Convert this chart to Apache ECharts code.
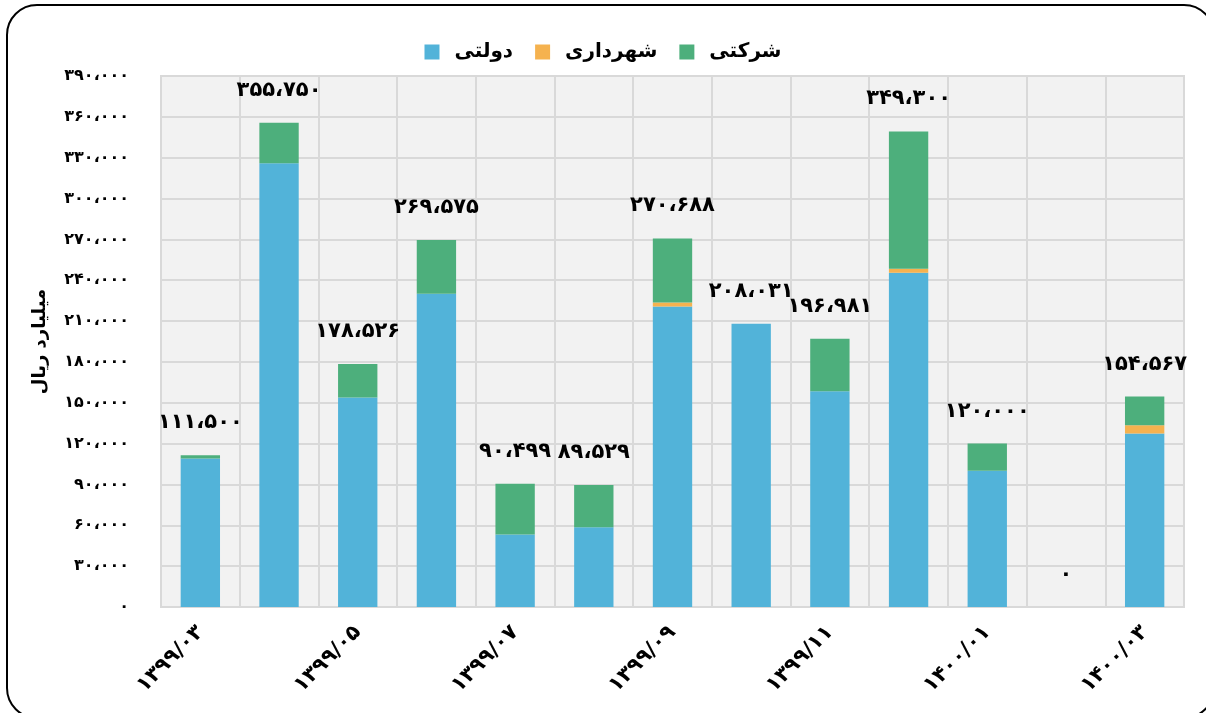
<!DOCTYPE html>
<html>
<head>
<meta charset="utf-8">
<script src="https://cdn.jsdelivr.net/npm/echarts@6/dist/echarts.min.js"></script>
<style>
  html, body { margin: 0; padding: 0; background: #fff; }
  #chart { width: 1206px; height: 713px; }
</style>
</head>
<body>
<div id="chart"></div>
<script>
// ماه ها
var months = ["۱۳۹۹/۰۳", "۱۳۹۹/۰۴", "۱۳۹۹/۰۵", "۱۳۹۹/۰۶", "۱۳۹۹/۰۷", "۱۳۹۹/۰۸", "۱۳۹۹/۰۹",
  "۱۳۹۹/۱۰", "۱۳۹۹/۱۱", "۱۳۹۹/۱۲", "۱۴۰۰/۰۱", "۱۴۰۰/۰۲", "۱۴۰۰/۰۳"];
var dolati = [109000, 326000, 153800, 230000, 53300, 58600, 220700, 208031, 158400, 245500, 100000, 0, 127400];
var shahrdari = [0, 0, 0, 0, 0, 0, 2900, 0, 0, 2900, 0, 0, 6100];
var sherkati = [2500, 29750, 24726, 39575, 37199, 30929, 47088, 0, 38581, 100900, 20000, 0, 21067];
var totals = [111500, 355750, 178526, 269575, 90499, 89529, 270688, 208031, 196981, 349300, 120000, 0, 154567];

var FONT = "DejaVu Sans";

// اعداد فارسی با جداکننده
function fa(n) {
  var s = String(Math.round(n)).replace(/\B(?=(\d{3})+(?!\d))/g, "،");
  return s.replace(/\d/g, function (d) { return "۰۱۲۳۴۵۶۷۸۹"[d]; });
}

var chart = echarts.init(document.getElementById("chart"));
var option = {
  backgroundColor: "#fff",
  textStyle: { fontFamily: FONT },
  graphic: [{
    type: "rect",
    shape: { x: 7, y: 5, width: 1207, height: 713, r: 30 },
    style: { fill: "none", stroke: "#000", lineWidth: 2 },
    z: 100
  }],
  legend: {
    data: ["دولتی", "شهرداری", "شرکتی"],
    top: 37,
    left: "center",
    itemWidth: 15,
    itemHeight: 15,
    itemGap: 22,
    icon: "rect",
    textStyle: {
      fontFamily: FONT, fontSize: 20, fontWeight: "bold", color: "#000",
      padding: [0, 0, 0, 10]
    }
  },
  grid: {
    left: 161,
    right: 22,
    top: 76,
    bottom: 106,
    show: true,
    backgroundColor: "#f2f2f2",
    borderColor: "#d9d9d9",
    borderWidth: 2
  },
  xAxis: {
    type: "category",
    data: months,
    axisLine: { lineStyle: { color: "#d9d9d9", width: 2 } },
    axisTick: { show: false },
    splitLine: { show: true, interval: 0, lineStyle: { color: "#d9d9d9", width: 2 } },
    axisLabel: {
      interval: 1,
      rotate: 45,
      margin: 22,
      fontFamily: FONT,
      fontSize: 21,
      fontWeight: "bold",
      color: "#000"
    }
  },
  yAxis: {
    type: "value",
    min: 0,
    max: 390000,
    interval: 30000,
    name: "میلیارد ریال",
    nameLocation: "middle",
    nameGap: 112,
    nameTextStyle: { fontFamily: FONT, fontSize: 18, fontWeight: "bold", color: "#000" },
    axisLine: { show: false },
    axisTick: { show: false },
    splitLine: { lineStyle: { color: "#d9d9d9", width: 2 } },
    axisLabel: {
      margin: 32,
      fontFamily: FONT,
      fontSize: 16,
      fontWeight: "bold",
      color: "#000",
      formatter: function (v) { return fa(v); }
    }
  },
  series: [
    {
      name: "دولتی",
      type: "bar",
      stack: "all",
      barWidth: "50%",
      data: dolati,
      itemStyle: { color: "#52b3d9" }
    },
    {
      name: "شهرداری",
      type: "bar",
      stack: "all",
      data: shahrdari,
      itemStyle: { color: "#f5b24f" }
    },
    {
      name: "شرکتی",
      type: "bar",
      stack: "all",
      data: sherkati,
      itemStyle: { color: "#4daf7c" },
      label: {
        show: true,
        position: "top",
        distance: 22,
        fontFamily: FONT,
        fontSize: 21,
        fontWeight: "bold",
        color: "#000",
        formatter: function (p) { return fa(totals[p.dataIndex]); }
      }
    }
  ]
};
chart.setOption(option);
</script>
</body>
</html>
